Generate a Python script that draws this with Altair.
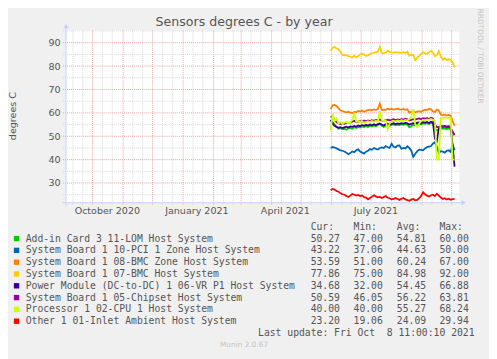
import altair as alt
import pandas as pd

# ---------------- data ----------------
series_names = [
    "Add-in Card 3 11-LOM Host System",
    "System Board 1 10-PCI 1 Zone Host System",
    "System Board 1 08-BMC Zone Host System",
    "System Board 1 07-BMC Host System",
    "Power Module (DC-to-DC) 1 06-VR P1 Host System",
    "System Board 1 05-Chipset Host System",
    "Processor 1 02-CPU 1 Host System",
    "Other 1 01-Inlet Ambient Host System",
]
series_colors = ["#00CC00", "#0066B3", "#FF8000", "#FFCC00",
                 "#330099", "#990099", "#CCFF00", "#FF0000"]
cur_vals = ["50.27", "43.22", "53.59", "77.86", "34.68", "50.59", "40.00", "23.20"]
min_vals = ["47.00", "37.06", "51.00", "75.00", "32.00", "46.05", "40.00", "19.06"]
avg_vals = ["54.81", "44.63", "60.24", "84.98", "54.45", "56.22", "55.27", "24.09"]
max_vals = ["60.00", "50.00", "67.00", "92.00", "66.88", "63.81", "68.24", "29.94"]

# samples every 2 days starting 2021-05-31
sample_dates = pd.date_range("2021-05-31", periods=64, freq="2D").strftime("%Y-%m-%d").tolist()

green_vals = [57.0, 56.0, 55.0, 54.0, 53.2, 53.5, 53.0, 53.2, 52.8, 53.4,
              53.6, 53.2, 53.9, 53.5, 54.0, 53.7, 54.2, 53.9, 54.3, 54.0,
              54.5, 54.2, 54.6, 54.3, 54.8, 55.2, 54.5, 54.0, 54.6, 54.9,
              54.5, 54.8, 55.1, 54.7, 55.0, 54.8, 55.1, 54.9, 55.2, 55.0,
              53.8, 54.3, 54.9, 54.7, 55.2, 55.4, 55.1, 55.5, 55.3, 55.6,
              55.2, 55.7, 55.4, 53.0, 52.5, 53.0, 53.5, 53.2, 53.4, 53.1,
              53.3, 53.0, 51.5, 50.3]
blue_vals = [45.0, 45.4, 45.2, 44.8, 44.4, 44.0, 43.8, 43.5, 43.0, 42.3,
             42.8, 43.5, 43.2, 44.0, 44.4, 43.5, 43.0, 42.6, 43.4, 43.8,
             44.5, 44.2, 45.0, 44.6, 44.3, 45.0, 45.2, 45.0, 45.8, 45.3,
             45.0, 46.8, 45.5, 45.2, 46.0, 46.1, 44.6, 45.0, 44.8, 45.7,
             45.0, 43.8, 41.2, 42.5, 43.5, 44.3, 44.2, 44.0, 44.8, 45.4,
             45.6, 45.8, 46.8, 47.5, 45.5, 42.8, 43.6, 43.4, 43.0, 43.8,
             44.0, 43.3, 46.5, 44.0]
orange_vals = [61.6, 63.2, 63.4, 63.0, 62.0, 61.0, 60.8, 60.4, 60.2, 60.5,
               60.1, 59.9, 60.4, 60.3, 60.8, 60.6, 61.0, 60.5, 60.9, 61.2,
               61.4, 61.2, 61.5, 61.3, 61.6, 64.0, 61.2, 61.4, 61.3, 61.8,
               61.5, 61.7, 61.4, 61.6, 61.8, 61.5, 61.4, 61.7, 61.3, 61.5,
               60.1, 60.4, 60.6, 60.2, 60.5, 60.7, 60.4, 61.0, 61.4, 61.2,
               61.8, 61.5, 60.6, 60.4, 61.4, 61.0, 59.2, 59.0, 59.2, 58.9,
               59.1, 58.8, 56.5, 54.5]
yellow_vals = [86.4, 87.8, 88.2, 87.5, 87.2, 86.0, 84.8, 84.6, 84.7, 84.3,
               84.1, 83.8, 84.5, 83.8, 84.2, 85.0, 85.3, 84.9, 84.3, 84.6,
               85.2, 85.5, 85.7, 85.9, 86.1, 88.2, 85.6, 85.4, 85.8, 86.6,
               86.1, 85.9, 85.8, 86.0, 85.8, 85.9, 85.7, 86.0, 85.6, 86.2,
               84.4, 84.9, 84.8, 82.5, 83.6, 84.3, 85.2, 86.0, 85.4, 85.3,
               85.9, 86.5, 85.7, 84.2, 84.7, 86.4, 84.0, 82.8, 83.3, 82.6,
               82.9, 82.6, 81.6, 79.5]
indigo_vals = [57.0, 55.5, 54.5, 54.0, 53.6, 53.9, 53.5, 53.8, 54.1, 53.7,
               54.2, 54.0, 54.4, 54.1, 54.6, 54.3, 54.8, 54.5, 54.9, 54.6,
               55.0, 54.7, 55.1, 54.8, 55.2, 55.5, 55.0, 54.6, 55.2, 55.4,
               55.0, 55.3, 55.6, 55.2, 55.5, 55.3, 55.6, 55.4, 55.7, 55.5,
               55.0, 55.3, 55.6, 55.4, 55.8, 55.9, 55.6, 56.0, 55.8, 56.1,
               55.7, 56.2, 55.9, 49.0, 48.0, 53.5, 54.5, 54.2, 54.4, 54.1,
               54.3, 54.0, 46.0, 37.0]
purple_vals = [58.5, 58.0, 57.2, 56.0, 55.6, 55.2, 55.5, 55.3, 55.8, 55.6,
               55.9, 56.2, 56.6, 56.0, 56.3, 56.5, 56.2, 56.7, 56.4, 56.8,
               56.5, 56.9, 56.6, 57.0, 56.8, 57.2, 56.8, 56.5, 56.9, 57.1,
               56.8, 57.0, 57.3, 56.9, 57.2, 57.0, 57.3, 57.1, 57.5, 57.2,
               56.7, 57.0, 57.3, 57.1, 57.4, 57.6, 57.3, 57.7, 57.5, 57.8,
               57.4, 57.9, 57.6, 55.0, 53.8, 54.0, 54.2, 53.9, 54.1, 53.8,
               54.0, 53.7, 52.0, 50.6]
lime_vals = [52.4, 59.5, 56.5, 57.5, 55.5, 56.0, 55.4, 55.8, 56.2, 55.6,
             56.0, 57.0, 60.1, 56.2, 56.5, 56.0, 56.3, 55.8, 56.0, 56.4,
             56.1, 56.5, 56.2, 56.6, 56.3, 60.8, 57.0, 56.5, 56.8, 53.0,
             55.5, 56.3, 56.6, 56.4, 56.8, 56.5, 56.9, 56.6, 57.0, 56.8,
             57.2, 58.5, 61.6, 55.0, 54.0, 55.5, 56.5, 57.0, 56.8, 57.2,
             57.0, 57.4, 57.0, 56.5, 40.0, 40.0, 57.8, 58.0, 57.9, 58.1,
             57.9, 58.0, 40.0, 40.0]
red_vals = [26.9, 27.5, 27.2, 26.6, 26.3, 25.6, 25.2, 25.0, 24.5, 24.0,
            24.6, 25.3, 25.0, 24.6, 24.9, 24.4, 24.7, 24.0, 23.8, 23.0,
            23.6, 24.2, 24.8, 24.3, 23.9, 24.1, 23.6, 24.0, 24.4, 23.7,
            23.5, 23.0, 23.2, 23.6, 23.2, 22.8, 23.3, 23.6, 23.0, 22.7,
            22.4, 22.9, 23.2, 22.6, 22.8, 23.5, 24.5, 26.1, 25.2, 24.6,
            24.2, 24.8, 25.0, 24.4, 25.4, 24.6, 23.8, 23.2, 23.5, 23.0,
            23.3, 22.8, 23.1, 23.2]
series_values = [green_vals, blue_vals, orange_vals, yellow_vals,
                 indigo_vals, purple_vals, lime_vals, red_vals]

month_starts = ["2020-10-01", "2020-11-01", "2020-12-01", "2021-01-01", "2021-02-01",
                "2021-03-01", "2021-04-01", "2021-05-01", "2021-06-01", "2021-07-01",
                "2021-08-01", "2021-09-01", "2021-10-01"]
minor_days = ["2020-09-11", "2020-09-21", "2020-10-11", "2020-10-21", "2020-11-11",
              "2020-11-21", "2020-12-11", "2020-12-21", "2021-01-11", "2021-01-21",
              "2021-02-11", "2021-02-21", "2021-03-11", "2021-03-21", "2021-04-11",
              "2021-04-21", "2021-05-11", "2021-05-21", "2021-06-11", "2021-06-21",
              "2021-07-11", "2021-07-21", "2021-08-11", "2021-08-21", "2021-09-11",
              "2021-09-21"]
x_label_dates = ["2020-10-16", "2021-01-15", "2021-04-15", "2021-07-16"]
x_label_texts = ["October 2020", "January 2021", "April 2021", "July 2021"]
y_major = [30, 40, 50, 60, 70, 80, 90]
y_minor = [25, 35, 45, 55, 65, 75, 85, 95]
header_texts = ["Cur:", "Min:", "Avg:", "Max:"]

# ---------------- frames ----------------
rows = []
for name, vals in zip(series_names, series_values):
    for d, v in zip(sample_dates, vals):
        rows.append({"date": d, "value": v, "series": name})
df = pd.DataFrame(rows)

legend_df = pd.DataFrame({"series": series_names, "cur": cur_vals, "min": min_vals,
                          "avg": avg_vals, "max": max_vals})
xlab_df = pd.DataFrame({"d": x_label_dates, "t": x_label_texts})
one = pd.DataFrame({"a": [0]})

W, H = 400, 175
FONT = "DejaVu Sans"
MONO = "DejaVu Sans Mono"
TXT = "#555555"
AXISC = "#C8D0F8"

xscale = alt.Scale(type="utc",
                   domain=[alt.DateTime(year=2020, month=9, date=4, utc=True),
                           alt.DateTime(year=2021, month=10, date=9, utc=True)])
yscale = alt.Scale(domain=[21.6, 95.2], nice=False, zero=False)
legend_scale = alt.Scale(type="point", domain=series_names, range=[211.5, 295.5], padding=0)

layers = []

# grid
layers.append(alt.Chart(pd.DataFrame({"d": minor_days})).mark_rule(
    color="#D8D8D8", strokeDash=[1, 1], strokeWidth=1).encode(
    x=alt.X("d:T", scale=xscale, axis=None), y=alt.value(0), y2=alt.value(H + 2)))
layers.append(alt.Chart(pd.DataFrame({"v": y_minor})).mark_rule(
    color="#D8D8D8", strokeDash=[1, 1], strokeWidth=1).encode(
    y=alt.Y("v:Q", scale=yscale, axis=None), x=alt.value(-3), x2=alt.value(W)))
layers.append(alt.Chart(pd.DataFrame({"d": month_starts})).mark_rule(
    color="#EAA0A0", strokeDash=[1, 1], strokeWidth=1).encode(
    x=alt.X("d:T", scale=xscale, axis=None), y=alt.value(0), y2=alt.value(H + 3)))
layers.append(alt.Chart(pd.DataFrame({"v": y_major})).mark_rule(
    color="#EAA0A0", strokeDash=[1, 1], strokeWidth=1).encode(
    y=alt.Y("v:Q", scale=yscale, axis=None), x=alt.value(-3), x2=alt.value(W)))

# axis lines + arrows
layers.append(alt.Chart(one).mark_rule(color=AXISC, strokeWidth=1).encode(
    x=alt.value(0), y=alt.value(-3), y2=alt.value(H + 4)))
layers.append(alt.Chart(one).mark_rule(color=AXISC, strokeWidth=1).encode(
    y=alt.value(H), x=alt.value(-4), x2=alt.value(W + 3)))
layers.append(alt.Chart(one).mark_point(shape="triangle-up", filled=True, color=AXISC,
                                        size=28, opacity=1).encode(
    x=alt.value(0), y=alt.value(-4.5)))
layers.append(alt.Chart(one).mark_point(shape="triangle-right", filled=True, color=AXISC,
                                        size=28, opacity=1).encode(
    x=alt.value(W + 4.5), y=alt.value(H)))

# series lines
for i, name in enumerate(series_names):
    if i == 0:
        yenc = alt.Y("value:Q", scale=yscale, axis=alt.Axis(
            values=y_major, ticks=False, tickSize=0, domain=False, grid=False,
            labelFont=FONT, labelFontSize=9.7, labelColor=TXT, labelPadding=6,
            labelFlush=False, labelOverlap=False, title=None))
    else:
        yenc = alt.Y("value:Q", scale=yscale, axis=None)
    layers.append(alt.Chart(df).transform_filter(
        alt.FieldEqualPredicate(field="series", equal=name)).mark_line(
        color=series_colors[i], strokeWidth=1.8).encode(
        x=alt.X("date:T", scale=xscale, axis=None), y=yenc))

# x-axis month labels
layers.append(alt.Chart(xlab_df).mark_text(font=FONT, fontSize=9.7, color=TXT,
                                           align="center", baseline="middle").encode(
    x=alt.X("d:T", scale=xscale, axis=None), y=alt.value(H + 8.7), text="t:N"))

# texts
def txt(s, x, y, size, color=TXT, font=FONT, align="center", angle=0):
    return alt.Chart(one).mark_text(text=s, font=font, fontSize=size, color=color,
                                    align=align, baseline="middle", angle=angle).encode(
        x=alt.value(x), y=alt.value(y))

layers.append(txt("Sensors degrees C - by year", 181, -8.5, 12.8))
layers.append(txt("degrees C", -53.5, 87, 9.7, angle=270))
layers.append(txt("RRDTOOL / TOBI OETIKER", 421, 26, 7.5, color="#C4C4C4", angle=90))
layers.append(txt("Munin 2.0.67", 181, 320, 7.5, color="#C4C4C4"))
layers.append(txt("Last update: Fri Oct \u00a08 11:00:10 2021", 415.3, 307.3, 9.9,
                  font=MONO, align="right"))
for h, hx in zip(header_texts, [248.7, 292.3, 336.3, 379.7]):
    layers.append(txt(h, hx, 200, 9.9, font=MONO, align="left"))

# legend
leg_y = alt.Y("series:N", scale=legend_scale, axis=None)
layers.append(alt.Chart(legend_df).mark_square(size=30, opacity=1).encode(
    x=alt.value(-50.3), y=leg_y,
    color=alt.Color("series:N", scale=alt.Scale(domain=series_names, range=series_colors),
                    legend=None)))
for field, fx in [("series", -41), ("cur", 248.7), ("min", 292.3), ("avg", 336.3), ("max", 379.7)]:
    layers.append(alt.Chart(legend_df).mark_text(font=MONO, fontSize=9.9, color=TXT,
                                                 align="left", baseline="middle").encode(
        x=alt.value(fx), y=leg_y, text=alt.Text(f"{field}:N")))

chart = alt.layer(*layers).resolve_scale(y="independent").properties(
    width=W, height=H, autosize="none", background="#F0F0F0",
    padding={"left": 59, "top": 20, "right": 30, "bottom": 156},
).configure_view(stroke=None, fill="white")

chart.save("out.html", embed_options={"renderer": "svg", "actions": False})
